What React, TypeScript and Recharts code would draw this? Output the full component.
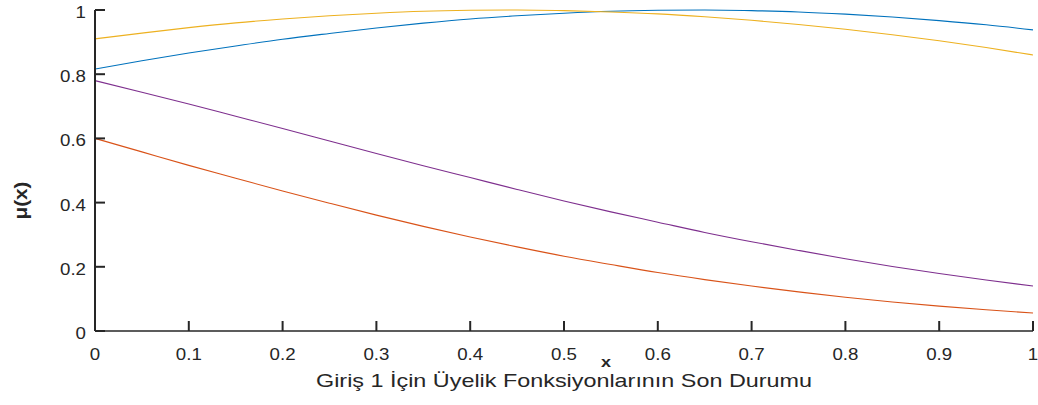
import React from 'react';
import { LineChart, Line, XAxis, YAxis, Label } from 'recharts';

const xValues = [0, 0.05, 0.1, 0.15, 0.2, 0.25, 0.3, 0.35, 0.4, 0.45, 0.5, 0.55, 0.6, 0.65, 0.7, 0.75, 0.8, 0.85, 0.9, 0.95, 1];
const blueValues = [0.816, 0.842, 0.866, 0.888, 0.909, 0.927, 0.944, 0.959, 0.972, 0.982, 0.99, 0.996, 0.999, 1.0, 0.998, 0.994, 0.987, 0.978, 0.967, 0.954, 0.938];
const orangeValues = [0.6, 0.558, 0.516, 0.476, 0.436, 0.398, 0.361, 0.326, 0.293, 0.262, 0.233, 0.207, 0.182, 0.16, 0.14, 0.122, 0.105, 0.0905, 0.0775, 0.066, 0.056];
const yellowValues = [0.91, 0.928, 0.945, 0.96, 0.972, 0.982, 0.99, 0.996, 0.999, 1.0, 0.998, 0.994, 0.988, 0.979, 0.968, 0.955, 0.94, 0.923, 0.904, 0.883, 0.86];
const purpleValues = [0.78, 0.744, 0.707, 0.669, 0.631, 0.592, 0.553, 0.515, 0.478, 0.441, 0.405, 0.371, 0.339, 0.307, 0.278, 0.251, 0.225, 0.201, 0.179, 0.159, 0.14];

const xTicks = [0, 0.1, 0.2, 0.3, 0.4, 0.5, 0.6, 0.7, 0.8, 0.9, 1];
const xTickLabels = ['0', '0.1', '0.2', '0.3', '0.4', '0.5', '0.6', '0.7', '0.8', '0.9', '1'];
const yTicks = [0, 0.2, 0.4, 0.6, 0.8, 1];
const yTickLabels = ['0', '0.2', '0.4', '0.6', '0.8', '1'];

const xLabel = 'x';
const yLabel = 'μ(x)';
const title = 'Giriş 1 İçin Üyelik Fonksiyonlarının Son Durumu';

const data = xValues.map((x, i) => ({
  x,
  blue: blueValues[i],
  orange: orangeValues[i],
  yellow: yellowValues[i],
  purple: purpleValues[i],
}));

const FONT = '"Liberation Sans", Arial, Helvetica, sans-serif';
const INK = '#262626';
const TICK_LEN = 10;

const labelFor = (ticks: number[], labels: string[], v: number) => {
  const i = ticks.findIndex((t) => Math.abs(t - v) < 1e-9);
  return i >= 0 ? labels[i] : String(v);
};

const BottomTick = (props: any) => {
  const { x, y, payload } = props;
  return (
    <g>
      <line x1={x} y1={y} x2={x} y2={y - TICK_LEN} stroke={INK} strokeWidth={2} />
      <text
        transform={`translate(${x},${y + 29}) scale(1.1,1)`}
        textAnchor="middle"
        fontSize={17}
        fontFamily={FONT}
        fill={INK}
      >
        {labelFor(xTicks, xTickLabels, payload.value)}
      </text>
    </g>
  );
};

const TopTick = (props: any) => {
  const { x, y } = props;
  return <line x1={x} y1={y} x2={x} y2={y + TICK_LEN} stroke={INK} strokeWidth={2} />;
};

const LeftTick = (props: any) => {
  const { x, y, payload } = props;
  return (
    <g>
      <line x1={x} y1={y} x2={x + TICK_LEN} y2={y} stroke={INK} strokeWidth={2} />
      <text
        transform={`translate(${x - 9},${y + 8}) scale(1.1,1)`}
        textAnchor="end"
        fontSize={17}
        fontFamily={FONT}
        fill={INK}
      >
        {labelFor(yTicks, yTickLabels, payload.value)}
      </text>
    </g>
  );
};

const RightTick = (props: any) => {
  const { x, y } = props;
  return <line x1={x} y1={y} x2={x - TICK_LEN} y2={y} stroke={INK} strokeWidth={2} />;
};

const XLabelContent = (props: any) => {
  const vb = props.viewBox || {};
  const cx = vb.x + vb.width / 2;
  return (
    <g>
      <text
        transform={`translate(${cx + 42},${vb.y + 36}) scale(1.2,1)`}
        textAnchor="middle"
        fontSize={15}
        fontWeight="bold"
        fontFamily={FONT}
        fill={INK}
      >
        {xLabel}
      </text>
      <text
        x={cx}
        y={vb.y + 56}
        textAnchor="middle"
        fontSize={19}
        fontFamily={FONT}
        fill={INK}
        textLength={496}
        lengthAdjust="spacingAndGlyphs"
      >
        {title}
      </text>
    </g>
  );
};

const YLabelContent = (props: any) => {
  const vb = props.viewBox || {};
  const cy = vb.y + vb.height / 2;
  return (
    <text
      transform={`translate(27,${cy + 30}) rotate(-90)`}
      textAnchor="middle"
      fontSize={19}
      fontWeight="bold"
      fontFamily={FONT}
      fill={INK}
      textLength={38}
      lengthAdjust="spacingAndGlyphs"
    >
      {yLabel}
    </text>
  );
};

export default function App() {
  return (
    <div style={{ width: 1038, height: 405, background: '#fff' }}>
      <style>{'body{margin:0;background:#fff}'}</style>
      <LineChart width={1038} height={405} data={data} margin={{ top: 10, right: 5, bottom: 0, left: 0 }}>
        <XAxis
          dataKey="x"
          type="number"
          domain={[0, 1]}
          ticks={xTicks}
          interval={0}
          height={74}
          tickSize={0}
          tickMargin={0}
          tickLine={false}
          axisLine={{ stroke: INK, strokeWidth: 1.5 }}
          tick={<BottomTick />}
        >
          <Label content={<XLabelContent />} />
        </XAxis>
        <XAxis
          xAxisId="top"
          orientation="top"
          dataKey="x"
          type="number"
          domain={[0, 1]}
          ticks={xTicks}
          interval={0}
          height={0}
          tickSize={0}
          tickMargin={0}
          tickLine={false}
          axisLine={{ stroke: INK, strokeWidth: 1.5 }}
          tick={<TopTick />}
        />
        <YAxis
          type="number"
          domain={[0, 1]}
          ticks={yTicks}
          interval={0}
          width={95}
          tickSize={0}
          tickMargin={0}
          tickLine={false}
          axisLine={{ stroke: INK, strokeWidth: 2 }}
          tick={<LeftTick />}
        >
          <Label content={<YLabelContent />} />
        </YAxis>
        <YAxis
          yAxisId="right"
          orientation="right"
          type="number"
          domain={[0, 1]}
          ticks={yTicks}
          interval={0}
          width={0}
          tickSize={0}
          tickMargin={0}
          tickLine={false}
          axisLine={{ stroke: INK, strokeWidth: 1.2 }}
          tick={<RightTick />}
        />
        <Line type="monotone" dataKey="blue" stroke="#0072BD" strokeWidth={1.1} dot={false} isAnimationActive={false} />
        <Line type="monotone" dataKey="orange" stroke="#D95319" strokeWidth={1.1} dot={false} isAnimationActive={false} />
        <Line type="monotone" dataKey="yellow" stroke="#EDB120" strokeWidth={1.1} dot={false} isAnimationActive={false} />
        <Line type="monotone" dataKey="purple" stroke="#7E2F8E" strokeWidth={1.1} dot={false} isAnimationActive={false} />
      </LineChart>
    </div>
  );
}
